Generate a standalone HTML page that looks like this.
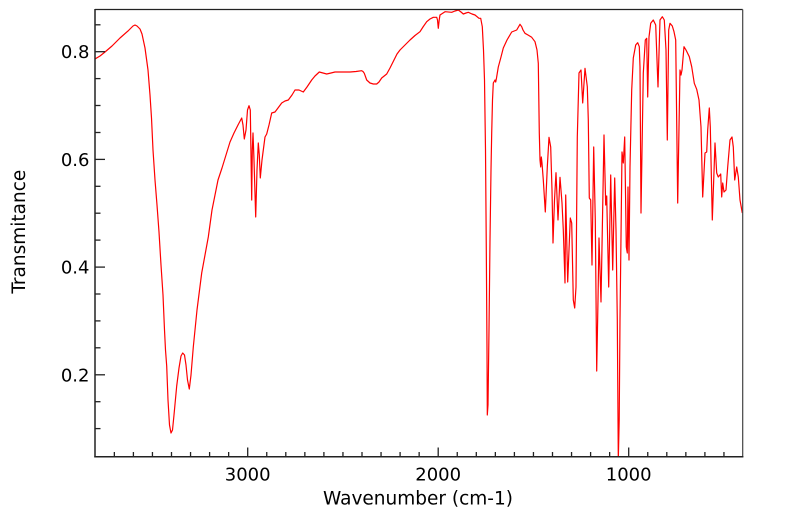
<!DOCTYPE html>
<html>
<head>
<meta charset="utf-8">
<style>
html,body{margin:0;padding:0;background:#fff;}
svg{display:block;}
text{font-family:"DejaVu Sans","Liberation Sans",sans-serif;fill:#000;}
</style>
</head>
<body>
<svg width="799" height="516" viewBox="0 0 799 516" xmlns="http://www.w3.org/2000/svg">
<defs>
<clipPath id="pa"><rect x="95" y="9.5" width="647.5" height="447"/></clipPath>
</defs>
<rect width="799" height="516" fill="#fff"/>
<g clip-path="url(#pa)">
<polyline fill="none" stroke="#ff0000" stroke-width="1.2" stroke-linejoin="round" points="
95,59 100,56 105,52 112,46 120,38 128,31 133,26 135,25 137,26 140,29 142,34 145,48 148,70 150,95 151.5,118 153,150 155,180 157,205 159,232 161,265 163,295 164.5,330 165.5,350 166.7,366 168,400 169.5,425 171,433 172.5,430 174,415 176.7,386 179,368 181,356 182.7,353 184.5,355 186,365 187.5,380 189.3,389 191,375 193.3,347 197,310 201.7,273 205,255 208.3,237 212,210 215,195 218,180 222,168 226,155 230,142 234,133 238,125 241.7,118 243,125 244.3,139 246,130 247.5,110 249,105.7 250.3,110 251.7,200 252.3,150 253,133 254,160 255.7,217 257,170 258.3,143 259.3,155 260.3,178 262,160 265,137 266.7,134 269,125 271.7,113 275,112 278,108 281.7,103 285,101 288.3,100 292,95 295,90 299,90 303.3,92 307,87 311.7,80 315,76 319.3,72 323,73 326.7,74 331,73 335,72 350,72 356,71.5 361.7,70.7 363,71.5 364.3,73.3 366.7,80 370,83 373.3,84 376.7,84 379,82 381.7,78 386.7,74 390,68 394,60 397,54 400,50 405,45 410,40 415,35.5 420,31.7 423,27 426.7,21.7 430,19 433.3,17.3 436.7,17.3 437.5,20 438.3,28.3 439.2,20 440,15 445,11.7 451.7,12.3 455,11 458.3,10 461,12 463.3,14 466,13 468.3,12.3 472,14 475,15 479,18.3 480.7,18.3 482.3,26.7 483.5,50 484.5,80 485.5,150 486.3,250 487,350 487.3,415 488,405 489,330 490,240 491,170 491.7,133 492.5,100 493.3,83 495,80 495.7,82 496.5,78 498.3,67 501,57 503.3,48 507,40 511.7,32 516.7,30 520,24.3 521.7,26.7 523,30 525,33.3 528,35 531.7,37.3 535,41.7 537,50 538.3,63.3 539.3,133 540,160 540.7,167 541.3,157 542,163 543.3,180 545.3,212 547.3,167 549,137.3 550.7,147 552,190 553,243 554.5,200 556,172.7 558,220 560,177.3 562,203 563.3,230 565,283 565.7,195 567.7,282 570.3,218 571.7,223 573.3,300 574.7,308 576,287 577.3,137 579,73 581,70 582.7,103 585,68.3 587.3,86.7 588.3,120 589.3,198 590.7,200 592,265 593.7,147 595.3,220 596.7,371 598,300 599,238 601,302 604,135 605.7,205 606.7,196 608.7,287 610.7,175 612.7,270 614.7,178 616,230 617.3,320 618.3,460 619.2,420 620,320 622,152 623.3,163 624.7,137 626.3,247 627.3,253 628,187 629,260 630,167 631.7,90 633.3,58 635.7,45 637.7,42.7 639.3,46.7 640,67 641,213 642.3,133 643.3,73 645.3,40 646.7,38.3 647.7,97 649,37 650.7,23.3 653.3,20 655.7,25 658,87 660,20 662.3,16.7 664.3,20 666,50 667.3,140 668.7,30 670,23.3 672.3,26 674,31.7 675.7,40 677.7,203 680,70 681,75 682,70 684,46.7 686,50 689.3,56.7 691.7,66.7 694.3,83.3 696.7,89.3 699,100 701,127 702.7,197 705,153 706.7,152 707.7,130 709.3,108 710.3,127 712.3,220 715,143 716.7,173 718.3,177 720.7,174 721.7,197 722.7,183 724,192 726,190 727.7,167 730,140 732,137 733.3,147 734.7,180 736.7,167 738.3,177 740,200 742.3,213"/>
</g>
<!-- spines -->
<line x1="95" y1="9.5" x2="742.7" y2="9.5" stroke="#222" stroke-width="1.2"/>
<line x1="742.7" y1="9.5" x2="742.7" y2="456.7" stroke="#444" stroke-width="1.2"/>
<line x1="95" y1="9" x2="95" y2="457.4" stroke="#222" stroke-width="1.5"/>
<line x1="94.3" y1="456.7" x2="743.4" y2="456.7" stroke="#222" stroke-width="1.5"/>
<!-- x ticks -->
<g stroke="#222" stroke-width="1.3">
<line x1="114.35" y1="456.7" x2="114.35" y2="452"/>
<line x1="133.4" y1="456.7" x2="133.4" y2="452"/>
<line x1="152.45" y1="456.7" x2="152.45" y2="452"/>
<line x1="171.5" y1="456.7" x2="171.5" y2="452"/>
<line x1="190.55" y1="456.7" x2="190.55" y2="452"/>
<line x1="209.6" y1="456.7" x2="209.6" y2="452"/>
<line x1="228.65" y1="456.7" x2="228.65" y2="452"/>
<line x1="247.7" y1="456.7" x2="247.7" y2="447.5"/>
<line x1="266.75" y1="456.7" x2="266.75" y2="452"/>
<line x1="285.8" y1="456.7" x2="285.8" y2="452"/>
<line x1="304.85" y1="456.7" x2="304.85" y2="452"/>
<line x1="323.9" y1="456.7" x2="323.9" y2="452"/>
<line x1="342.95" y1="456.7" x2="342.95" y2="452"/>
<line x1="362" y1="456.7" x2="362" y2="452"/>
<line x1="381.05" y1="456.7" x2="381.05" y2="452"/>
<line x1="400.1" y1="456.7" x2="400.1" y2="452"/>
<line x1="419.15" y1="456.7" x2="419.15" y2="452"/>
<line x1="438.2" y1="456.7" x2="438.2" y2="447.5"/>
<line x1="457.25" y1="456.7" x2="457.25" y2="452"/>
<line x1="476.3" y1="456.7" x2="476.3" y2="452"/>
<line x1="495.35" y1="456.7" x2="495.35" y2="452"/>
<line x1="514.4" y1="456.7" x2="514.4" y2="452"/>
<line x1="533.45" y1="456.7" x2="533.45" y2="452"/>
<line x1="552.5" y1="456.7" x2="552.5" y2="452"/>
<line x1="571.55" y1="456.7" x2="571.55" y2="452"/>
<line x1="590.6" y1="456.7" x2="590.6" y2="452"/>
<line x1="609.65" y1="456.7" x2="609.65" y2="452"/>
<line x1="628.7" y1="456.7" x2="628.7" y2="447.5"/>
<line x1="647.75" y1="456.7" x2="647.75" y2="452"/>
<line x1="666.8" y1="456.7" x2="666.8" y2="452"/>
<line x1="685.85" y1="456.7" x2="685.85" y2="452"/>
<line x1="704.9" y1="456.7" x2="704.9" y2="452"/>
<line x1="723.95" y1="456.7" x2="723.95" y2="452"/>
</g>
<!-- y ticks -->
<g stroke="#222" stroke-width="1.3">
<line x1="95" y1="24.8" x2="100.5" y2="24.8"/>
<line x1="95" y1="51.7" x2="105" y2="51.7"/>
<line x1="95" y1="78.6" x2="100.5" y2="78.6"/>
<line x1="95" y1="105.5" x2="100.5" y2="105.5"/>
<line x1="95" y1="132.5" x2="100.5" y2="132.5"/>
<line x1="95" y1="159.4" x2="105" y2="159.4"/>
<line x1="95" y1="186.3" x2="100.5" y2="186.3"/>
<line x1="95" y1="213.2" x2="100.5" y2="213.2"/>
<line x1="95" y1="240.1" x2="100.5" y2="240.1"/>
<line x1="95" y1="267.1" x2="105" y2="267.1"/>
<line x1="95" y1="294" x2="100.5" y2="294"/>
<line x1="95" y1="320.9" x2="100.5" y2="320.9"/>
<line x1="95" y1="347.8" x2="100.5" y2="347.8"/>
<line x1="95" y1="374.8" x2="105" y2="374.8"/>
<line x1="95" y1="401.7" x2="100.5" y2="401.7"/>
<line x1="95" y1="428.6" x2="100.5" y2="428.6"/>
</g>
<!-- tick labels -->
<g font-size="18">
<text x="247.7" y="480.5" text-anchor="middle">3000</text>
<text x="438.2" y="480.5" text-anchor="middle">2000</text>
<text x="628.7" y="480.5" text-anchor="middle">1000</text>
<text x="89.5" y="58.2" text-anchor="end">0.8</text>
<text x="89.5" y="165.9" text-anchor="end">0.6</text>
<text x="89.5" y="273.6" text-anchor="end">0.4</text>
<text x="89.5" y="381.3" text-anchor="end">0.2</text>
</g>
<text x="418" y="504.3" text-anchor="middle" font-size="18.5">Wavenumber (cm-1)</text>
<text x="0" y="0" text-anchor="middle" font-size="18.5" transform="translate(25,231.7) rotate(-90)">Transmitance</text>
</svg>
</body>
</html>
